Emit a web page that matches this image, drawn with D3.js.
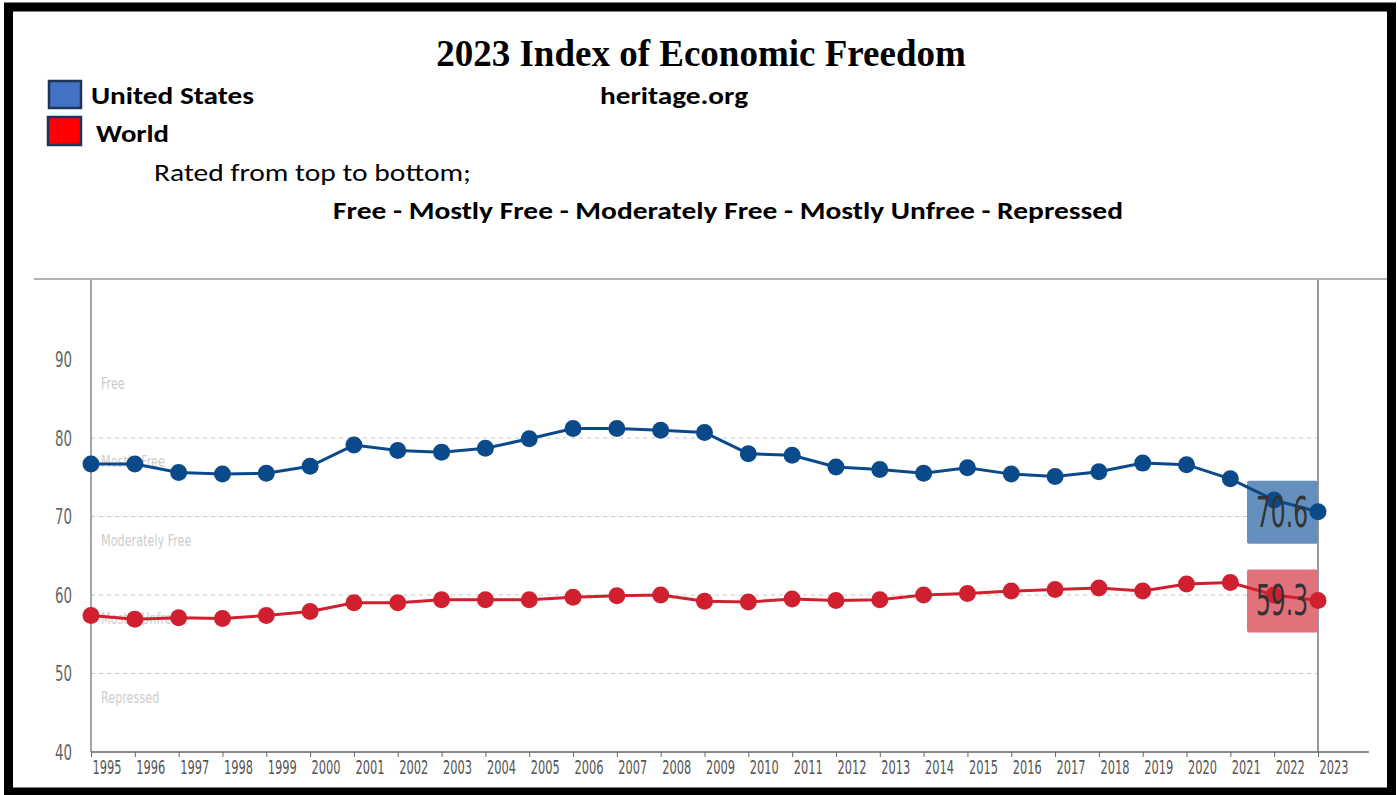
<!DOCTYPE html>
<html>
<head>
<meta charset="utf-8">
<script src="https://cdn.jsdelivr.net/npm/d3@7"></script>
<style>
  body { margin: 0; background: #fff; }
  .narrow { font-family: "Liberation Sans Narrow", "DejaVu Sans Condensed", "Roboto Condensed", sans-serif; font-stretch: condensed; }
  .cal { font-family: Carlito, Lato, "Open Sans", sans-serif; }
</style>
</head>
<body>
<svg id="chart" width="1397" height="795"></svg>
<script>
"use strict";

const years = d3.range(1995, 2024);
const usValues = [76.7, 76.7, 75.6, 75.4, 75.5, 76.4, 79.1, 78.4, 78.2, 78.7, 79.9, 81.2, 81.2, 81.0, 80.7,
  78.0, 77.8, 76.3, 76.0, 75.5, 76.2, 75.4, 75.1, 75.7, 76.8, 76.6, 74.8, 72.1, 70.6];
const worldValues = [57.4, 56.9, 57.1, 57.0, 57.4, 57.9, 59.0, 59.0, 59.4, 59.4, 59.4, 59.7, 59.9, 60.0, 59.2,
  59.1, 59.5, 59.3, 59.4, 60.0, 60.2, 60.5, 60.7, 60.9, 60.5, 61.4, 61.6, 60.0, 59.3];
const yTicks = [40, 50, 60, 70, 80, 90];
const gridValues = [50, 60, 70, 80];
const bandNames = ["Free", "Mostly Free", "Moderately Free", "Mostly Unfree", "Repressed"];
const bandTops = [90, 80, 70, 60, 50];
const legendNames = ["United States", "World"];

const svg = d3.select("#chart");

const x = d3.scaleLinear().domain([1995, 2023]).range([91, 1318]);
const y = d3.scaleLinear().domain([40, 100]).range([752, 281]);

// squeeze a text horizontally (the original uses a condensed face)
function squeeze(sel, k) {
  sel.each(function () {
    const w = this.getComputedTextLength();
    d3.select(this).attr("textLength", w * k).attr("lengthAdjust", "spacingAndGlyphs");
  });
}

// header texts
svg.append("text")
  .attr("x", 701).attr("y", 66)
  .attr("text-anchor", "middle")
  .style("font-family", "'Liberation Serif', 'Times New Roman', serif")
  .style("font-weight", "bold")
  .style("font-size", "37px")
  .text("2023 Index of Economic Freedom");

svg.append("text").attr("class", "cal")
  .attr("x", 600).attr("y", 104)
  .style("font-weight", "bold").style("font-size", "25px")
  .attr("textLength", 148).attr("lengthAdjust", "spacingAndGlyphs")
  .text("heritage.org");

const legendFill = ["#4472c4", "#ff0000"];
const legendWidth = [163, 73];
const leg = svg.selectAll(".leg").data(legendNames).enter().append("g").attr("class", "leg");
leg.append("rect")
  .attr("x", (d, i) => i ? 48 : 49)
  .attr("y", (d, i) => i ? 117 : 81)
  .attr("width", (d, i) => i ? 33 : 32)
  .attr("height", (d, i) => i ? 28 : 27)
  .attr("fill", (d, i) => legendFill[i])
  .attr("stroke", "#1f3558").attr("stroke-width", 2.5);
leg.append("text").attr("class", "cal")
  .attr("x", (d, i) => i ? 96 : 91)
  .attr("y", (d, i) => i ? 142 : 104)
  .style("font-weight", "bold").style("font-size", "25px")
  .attr("textLength", (d, i) => legendWidth[i]).attr("lengthAdjust", "spacingAndGlyphs")
  .text(d => d);

svg.append("text").attr("class", "cal")
  .attr("x", 154).attr("y", 181)
  .style("font-size", "25px")
  .attr("textLength", 317).attr("lengthAdjust", "spacingAndGlyphs")
  .text("Rated from top to bottom;");

svg.append("text").attr("class", "cal")
  .attr("x", 333).attr("y", 219)
  .style("font-weight", "bold").style("font-size", "25px")
  .attr("textLength", 790).attr("lengthAdjust", "spacingAndGlyphs")
  .text("Free - Mostly Free - Moderately Free - Mostly Unfree - Repressed");

// frame line above the plot
svg.append("line")
  .attr("x1", 34).attr("x2", 1390).attr("y1", 279).attr("y2", 279)
  .attr("stroke", "#999").attr("stroke-width", 1.5);

// grid
svg.selectAll(".grid").data(gridValues).enter().append("line")
  .attr("x1", x(1995)).attr("x2", x(2023))
  .attr("y1", d => y(d)).attr("y2", d => y(d))
  .attr("stroke", "#c8c8c8").attr("stroke-dasharray", "4,4");

// band labels
svg.selectAll(".band").data(bandNames).enter().append("text")
  .attr("class", "narrow")
  .attr("x", 101)
  .attr("y", (d, i) => y(bandTops[i]) + 29)
  .style("font-size", "16px")
  .attr("fill", "#cdcdcd")
  .text(d => d)
  .call(squeeze, 0.78);

// y axis labels
const yAxis = svg.append("g")
  .attr("transform", `translate(${x(1995)},0)`)
  .call(d3.axisLeft(y).tickValues(yTicks).tickSize(0).tickPadding(19));
yAxis.select(".domain").remove();
yAxis.selectAll("text").attr("class", "narrow")
  .style("font-size", "21px").attr("fill", "#666").attr("dy", "0.35em")
  .attr("textLength", 17).attr("lengthAdjust", "spacingAndGlyphs");

// left and right vertical lines
svg.append("line")
  .attr("x1", x(1995)).attr("x2", x(1995)).attr("y1", 280).attr("y2", y(40))
  .attr("stroke", "#888").attr("stroke-width", 1.5);
svg.append("line")
  .attr("x1", x(2023)).attr("x2", x(2023)).attr("y1", 280).attr("y2", y(40))
  .attr("stroke", "#555").attr("stroke-width", 1.2);

// x axis
const xAxis = svg.append("g")
  .attr("transform", `translate(0,${y(40)})`)
  .call(d3.axisBottom(x).tickValues(years).tickFormat(d3.format("d")).tickSize(5).tickPadding(3));
xAxis.select(".domain").remove();
xAxis.selectAll(".tick line").attr("stroke", "#666");
xAxis.selectAll("text").attr("class", "narrow")
  .attr("text-anchor", "start").attr("dx", 1)
  .style("font-size", "20px").attr("fill", "#555")
  .attr("textLength", 29).attr("lengthAdjust", "spacingAndGlyphs");
svg.append("line")
  .attr("x1", x(1995)).attr("x2", x(2024.16)).attr("y1", y(40)).attr("y2", y(40))
  .attr("stroke", "#666").attr("stroke-width", 1.5);

// value boxes behind the lines
const series = [
  { name: "United States", values: usValues, color: "#0b4a8a", box: "#6590be" },
  { name: "World", values: worldValues, color: "#d0202f", box: "#e3717b" }
];
const last = years.length - 1;

svg.selectAll(".vbox").data(series).enter().append("rect")
  .attr("x", x(2023) - 71)
  .attr("y", d => y(d.values[last]) - 31)
  .attr("width", 71).attr("height", 63)
  .attr("rx", 2)
  .attr("fill", d => d.box);

const line = d3.line().x((d, i) => x(years[i])).y(d => y(d));

const sg = svg.selectAll(".series").data(series).enter().append("g");
sg.append("path")
  .attr("d", d => line(d.values))
  .attr("fill", "none")
  .attr("stroke", d => d.color)
  .attr("stroke-width", 3);
sg.selectAll("circle").data(d => d.values.map(v => ({ v, c: d.color }))).enter().append("circle")
  .attr("cx", (d, i) => x(years[i]))
  .attr("cy", d => y(d.v))
  .attr("r", 8.5)
  .attr("fill", d => d.c);

svg.selectAll(".vtext").data(series).enter().append("text")
  .attr("class", "narrow")
  .attr("x", x(2023) - 36)
  .attr("y", d => y(d.values[last]) + 15)
  .attr("text-anchor", "middle")
  .attr("textLength", 52).attr("lengthAdjust", "spacingAndGlyphs")
  .style("font-size", "42px")
  .attr("fill", "#333")
  .text(d => d.values[last].toFixed(1));

// outer border
svg.append("rect")
  .attr("x", 8.5).attr("y", 7).attr("width", 1383).attr("height", 785)
  .attr("fill", "none").attr("stroke", "#000").attr("stroke-width", 9);
</script>
</body>
</html>
